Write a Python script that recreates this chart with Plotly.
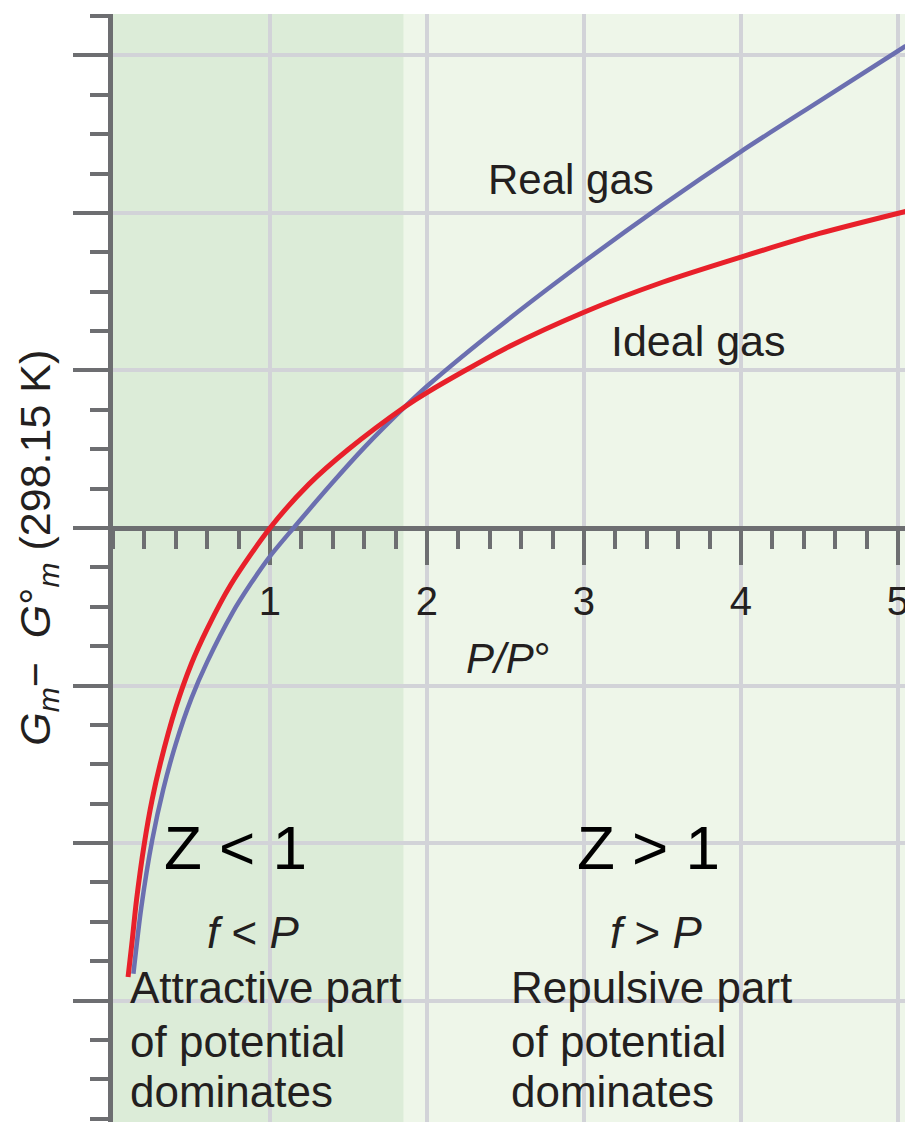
import plotly.graph_objects as go

# ---- data ----
ideal_x = [0.096, 0.12, 0.15, 0.2, 0.25, 0.3, 0.4, 0.5, 0.6, 0.75, 1.0, 1.25, 1.5, 1.86, 2.0, 2.5, 3.0, 3.5, 4.0, 4.5, 5.05]
ideal_y = [-2.85, -2.64, -2.36, -2.00, -1.72, -1.50, -1.14, -0.86, -0.64, -0.36, 0.00, 0.28, 0.50, 0.77, 0.86, 1.14, 1.37, 1.56, 1.72, 1.87, 2.01]

real_x = [0.13, 0.18, 0.25, 0.32, 0.4, 0.5, 0.6, 0.76, 0.88, 1.0, 1.15, 1.4, 1.6, 1.86, 2.0, 2.5, 3.0, 3.5, 4.0, 4.5, 5.05]
real_y = [-2.83, -2.41, -1.98, -1.66, -1.37, -1.08, -0.85, -0.54, -0.35, -0.18, 0.00, 0.29, 0.51, 0.77, 0.90, 1.31, 1.69, 2.05, 2.39, 2.71, 3.06]

x_tick_vals = [1, 2, 3, 4, 5]
x_tick_text = ["1", "2", "3", "4", "5"]
attractive_limit = 1.85  # boundary of the Z<1 region

X_RANGE = [0, 5.045]
Y_RANGE = [-3.771, 3.263]

AXIS_COLOR = "#6d6e71"
GRID_COLOR = "#d2d3d8"
TEXT_COLOR = "#231f20"
FONT = "Liberation Sans, Arial, Helvetica, sans-serif"

fig = go.Figure()

fig.add_trace(go.Scatter(x=real_x, y=real_y, mode="lines", name="Real gas",
                         line=dict(color="#6b6fb0", width=4.5, shape="spline", smoothing=0.8)))
fig.add_trace(go.Scatter(x=ideal_x, y=ideal_y, mode="lines", name="Ideal gas",
                         line=dict(color="#e8202a", width=5, shape="spline", smoothing=0.8)))

# darker green region (attractive part dominates)
fig.add_shape(type="rect", xref="x", yref="paper", x0=0, x1=attractive_limit, y0=0, y1=1,
              fillcolor="#dcecd8", line=dict(width=0), layer="below")

x_axis_pos = (0 - Y_RANGE[0]) / (Y_RANGE[1] - Y_RANGE[0])

fig.update_layout(
    width=905, height=1122,
    margin=dict(l=113, r=0, t=14, b=0, autoexpand=False),
    paper_bgcolor="white",
    plot_bgcolor="#eef6e9",
    showlegend=False,
    font=dict(family=FONT, color=TEXT_COLOR),
    xaxis=dict(
        range=X_RANGE, anchor="free", position=x_axis_pos,
        showline=True, linecolor=AXIS_COLOR, linewidth=5,
        tickmode="array", tickvals=x_tick_vals, ticktext=x_tick_text,
        ticks="outside", ticklen=34, tickwidth=4, tickcolor=AXIS_COLOR,
        tickfont=dict(size=40, color=TEXT_COLOR, family=FONT),
        ticklabelstandoff=2, ticklabeloverflow="allow",
        showgrid=True, gridcolor=GRID_COLOR, gridwidth=4,
        zeroline=False, layer="below traces",
        minor=dict(tickmode="linear", tick0=0, dtick=0.2, ticks="outside",
                   ticklen=18, tickwidth=4, tickcolor=AXIS_COLOR, showgrid=False),
        fixedrange=True,
    ),
    yaxis=dict(
        range=Y_RANGE,
        showline=True, linecolor=AXIS_COLOR, linewidth=5,
        tickmode="linear", tick0=0, dtick=1,
        ticks="outside", ticklen=35, tickwidth=4, tickcolor=AXIS_COLOR,
        showticklabels=False,
        showgrid=True, gridcolor=GRID_COLOR, gridwidth=4,
        zeroline=False, layer="below traces",
        minor=dict(tickmode="linear", tick0=0, dtick=0.25, ticks="outside",
                   ticklen=18, tickwidth=4, tickcolor=AXIS_COLOR, showgrid=False),
        fixedrange=True,
    ),
)

def ann(text, x, y, size, xanchor="center", align="center", color=TEXT_COLOR, xref="x", angle=0):
    fig.add_annotation(text=text, x=x, y=y, xref=xref, yref="y", showarrow=False,
                       xanchor=xanchor, yanchor="middle", align=align, textangle=angle,
                       font=dict(size=size, color=color, family=FONT))

ann("Real gas", 2.92, 2.21, 42)
ann("Ideal gas", 3.73, 1.19, 43)
ann("<i>P/P</i>°", 2.52, -0.83, 42)
ann("Z < 1", 0.78, -2.03, 62, color="black")
ann("Z > 1", 3.41, -2.03, 62, color="black")
ann("<i>f</i> < <i>P</i>", 0.89, -2.57, 44)
ann("<i>f</i> > <i>P</i>", 3.46, -2.57, 44)

left_lines = ["Attractive part", "of potential", "dominates"]
right_lines = ["Repulsive part", "of potential", "dominates"]
line_y = [-2.917, -3.26, -3.578]
for txt, yy in zip(left_lines, line_y):
    ann(txt, 0.096, yy, 44, xanchor="left", align="left")
for txt, yy in zip(right_lines, line_y):
    ann(txt, 2.52, yy, 44, xanchor="left", align="left")

ann("<i>G<sub>m</sub></i>−  <i>G</i>°<sub><i>m</i></sub> (298.15 K)", -0.095, -0.127, 43,
    xref="paper", angle=-90)

fig.write_html("out.html")
